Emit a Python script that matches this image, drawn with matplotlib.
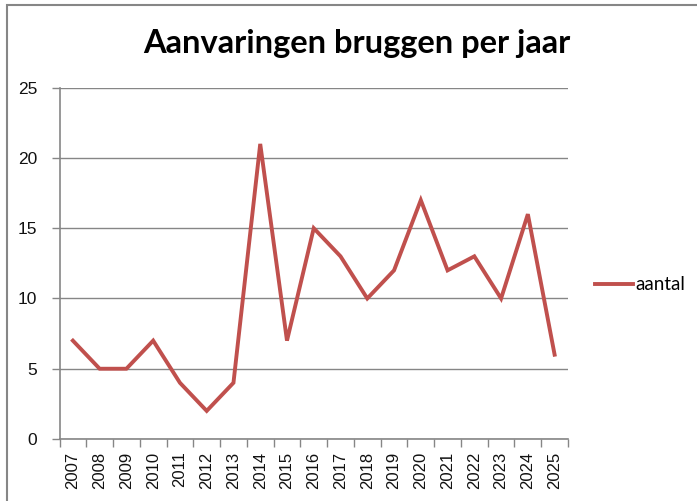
import numpy as np
import matplotlib
matplotlib.use("Agg")
import matplotlib.pyplot as plt
from matplotlib.patches import Rectangle

# data
jaren = [str(j) for j in range(2007, 2026)]
aantal = [7, 5, 5, 7, 4, 2, 4, 21, 7, 15, 13, 10, 12, 17, 12, 13, 10, 16, 6]
titel = "Aanvaringen bruggen per jaar"

W, H = 697, 501
fig = plt.figure(figsize=(W / 100, H / 100), dpi=100)
fig.patch.set_facecolor("white")

# grijze rand om de grafiek (excel stijl)
fig.patches.append(Rectangle((7 / W, -0.1), 1.2, (H - 5) / H + 0.1,
                             transform=fig.transFigure, fill=False,
                             edgecolor="#868686", linewidth=1.5))

grijs = "#868686"
ax = fig.add_axes([59.5 / W, (H - 439) / H, (568 - 59.5) / W, (439 - 87.7) / H])
x = np.arange(len(jaren))
ax.plot(x, aantal, color="#C0504D", linewidth=2.8, label="aantal",
        solid_joinstyle="miter")

ax.set_xlim(-0.5, len(jaren) - 0.5)
ax.set_ylim(0, 25)
ax.set_yticks(range(0, 26, 5))
ax.yaxis.grid(True, color=grijs, linewidth=1)
ax.set_axisbelow(True)

# tickmarks tussen de categorieen, labels in het midden
ax.set_xticks(np.arange(-0.5, len(jaren), 1))
ax.set_xticklabels([])
ax.set_xticks(x, minor=True)
ax.set_xticklabels(jaren, minor=True, rotation=90, fontsize=12,
                   family="Liberation Sans", color="#111111")
ax.tick_params(axis="x", which="major", length=6, color=grijs, width=1)
ax.tick_params(axis="x", which="minor", length=0, pad=9)
ax.tick_params(axis="y", length=6, color=grijs, width=1, labelsize=12.5,
               labelcolor="#111111", pad=10)
for lab in ax.get_yticklabels():
    lab.set_family("Liberation Sans")

for s in ["top", "right"]:
    ax.spines[s].set_visible(False)
for s in ["left", "bottom"]:
    ax.spines[s].set_color(grijs)
    ax.spines[s].set_linewidth(1.2)

fig.text(357 / W, 1 - 44 / H, titel, ha="center", va="center",
         fontsize=23.5, fontweight="bold", family="Lato")

leg = fig.legend(loc="center left", bbox_to_anchor=(595 / W, 1 - 285 / H),
                 frameon=False, prop={"family": "Lato", "size": 13.5},
                 handlelength=2.0, handletextpad=0.15, borderaxespad=0,
                 borderpad=0)

fig.savefig("out.png", dpi=100)
